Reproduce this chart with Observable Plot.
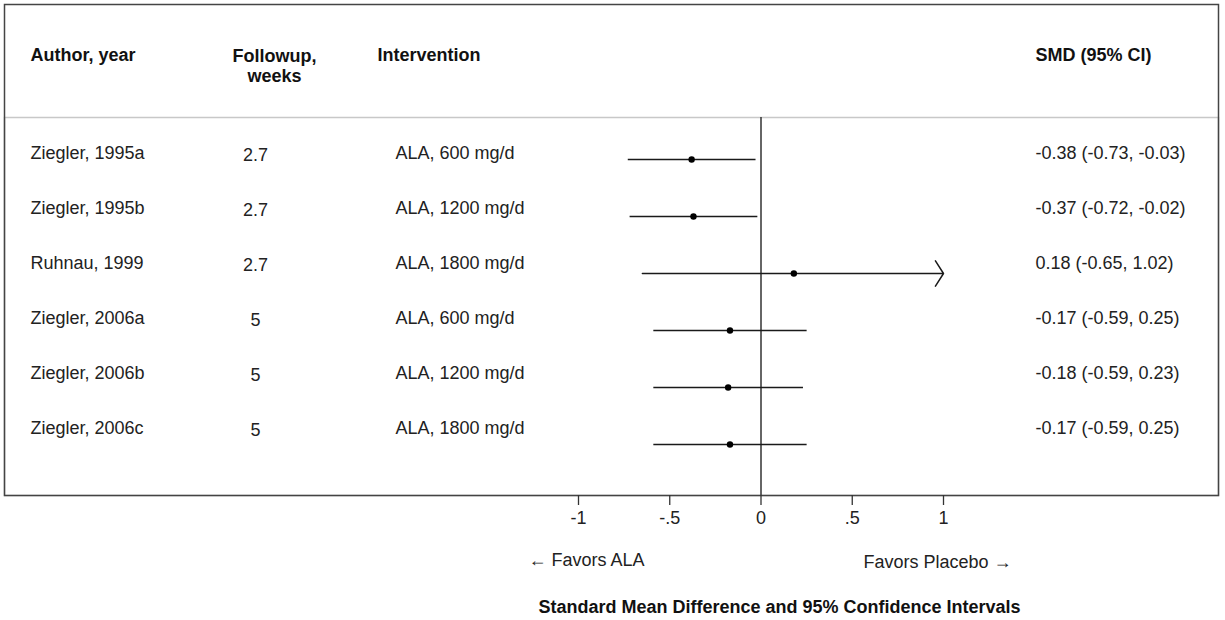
<!DOCTYPE html>
<html><head><meta charset="utf-8">
<script src="https://cdn.jsdelivr.net/npm/d3@7"></script>
<script src="https://cdn.jsdelivr.net/npm/@observablehq/plot@0.6"></script>
<style>
body{margin:0;background:#fff;}
#chart{position:relative;width:1225px;height:620px;}
#chart svg{position:absolute;left:0;top:0;}
</style></head><body><div id="chart"></div>
<script>
const authors = ["Ziegler, 1995a","Ziegler, 1995b","Ruhnau, 1999","Ziegler, 2006a","Ziegler, 2006b","Ziegler, 2006c"];
const followup = ["2.7","2.7","2.7","5","5","5"];
const interventions = ["ALA, 600 mg/d","ALA, 1200 mg/d","ALA, 1800 mg/d","ALA, 600 mg/d","ALA, 1200 mg/d","ALA, 1800 mg/d"];
const smd = [-0.38,-0.37,0.18,-0.17,-0.18,-0.17];
const lower = [-0.73,-0.72,-0.65,-0.59,-0.59,-0.59];
const upper = [-0.03,-0.02,1.02,0.25,0.23,0.25];
const headers = ["Author, year","Followup,\nweeks","Intervention","SMD (95% CI)"];
const xTicks = [-1,-0.5,0,0.5,1];
const xTickLabels = ["-1","-.5","0",".5","1"];
const favorsLeft = "\u2190 Favors ALA";
const favorsRight = "Favors Placebo \u2192";
const xTitle = "Standard Mean Difference and 95% Confidence Intervals";

const xMin = xTicks[0], xMax = xTicks[xTicks.length - 1];
const f2 = v => v.toFixed(2);
const data = authors.map((a, i) => ({
  row: i, author: a, followup: followup[i], intervention: interventions[i],
  smd: smd[i], lower: lower[i], upper: upper[i],
  upperClip: Math.min(upper[i], xMax),
  clipped: upper[i] > xMax,
  label: `${f2(smd[i])} (${f2(lower[i])}, ${f2(upper[i])})`
}));

const FONT = '"Liberation Sans", Arial, Helvetica, sans-serif';
const ink = "#222";
const W = 1225, H = 620;
const common = {
  width: W, height: H,
  marginTop: 4, marginLeft: 4, marginRight: 7, marginBottom: 125
};

// forest plot layer
const forest = Plot.plot({
  ...common,
  style: {fontFamily: FONT, fontSize: "18px", color: ink, background: "#fff"},
  x: {domain: [xMin, xMax], range: [578, 943], axis: null},
  y: {type: "point", domain: data.map(d => d.row), range: [158, 445], padding: 0, axis: null},
  marks: [
    Plot.frame({insetTop: 113, stroke: "#c8c8c8", strokeWidth: 1.5}),
    Plot.frame({stroke: "#444", strokeWidth: 1.5}),
    Plot.ruleX([0], {insetTop: 113, stroke: "#333", strokeWidth: 1.5}),
    Plot.link(data.filter(d => !d.clipped), {x1: "lower", x2: "upper", y1: "row", y2: "row", stroke: "#1a1a1a", strokeWidth: 1.5}),
    Plot.arrow(data.filter(d => d.clipped), {x1: "lower", x2: "upperClip", y1: "row", y2: "row", stroke: "#1a1a1a", strokeWidth: 1.5, headLength: 15, headAngle: 115, bend: 0}),
    Plot.dot(data, {x: "smd", y: "row", r: 3.2, fill: "#000", stroke: null}),
    // headers
    Plot.text([headers[0]], {text: d => d, frameAnchor: "top-left", dx: 26, dy: 51, lineAnchor: "middle", textAnchor: "start", fontWeight: "bold", fill: "#111"}),
    Plot.text([headers[1]], {text: d => d, frameAnchor: "top-left", dx: 270, dy: 61, lineAnchor: "middle", textAnchor: "middle", lineHeight: 1.12, fontWeight: "bold", fill: "#111"}),
    Plot.text([headers[2]], {text: d => d, frameAnchor: "top-left", dx: 373, dy: 51, lineAnchor: "middle", textAnchor: "start", fontWeight: "bold", fill: "#111"}),
    Plot.text([headers[3]], {text: d => d, frameAnchor: "top-left", dx: 1031, dy: 51, lineAnchor: "middle", textAnchor: "start", fontWeight: "bold", fill: "#111"}),
    // axis
    Plot.axisX({anchor: "bottom", ticks: xTicks, tickFormat: d => xTickLabels[xTicks.indexOf(d)], tickSize: 10, tickPadding: 6, stroke: "#333", strokeWidth: 1.3, fill: ink, label: null, fontSize: 18}),
    // bottom labels
    Plot.text([favorsLeft], {text: d => d, frameAnchor: "bottom-left", dx: 524, dy: 65, lineAnchor: "middle", textAnchor: "start", fill: ink}),
    Plot.text([favorsRight], {text: d => d, frameAnchor: "bottom-left", dx: 859, dy: 67, lineAnchor: "middle", textAnchor: "start", fill: ink}),
    Plot.text([xTitle], {text: d => d, frameAnchor: "bottom-left", dx: 534, dy: 112, lineAnchor: "middle", textAnchor: "start", fontWeight: "bold", fill: "#111"})
  ]
});

// table text layer (its own row scale)
const table = Plot.plot({
  ...common,
  style: {fontFamily: FONT, fontSize: "18px", color: ink, background: "transparent"},
  x: {axis: null},
  y: {type: "point", domain: data.map(d => d.row), range: [152, 428], padding: 0, axis: null},
  marks: [
    Plot.text(data, {y: "row", text: "author", frameAnchor: "left", dx: 26, textAnchor: "start", fill: ink}),
    Plot.text(data, {y: "row", text: "followup", frameAnchor: "left", dx: 251, dy: 2, textAnchor: "middle", fill: ink}),
    Plot.text(data, {y: "row", text: "intervention", frameAnchor: "left", dx: 391, textAnchor: "start", fill: ink}),
    Plot.text(data, {y: "row", text: "label", frameAnchor: "left", dx: 1031, textAnchor: "start", fill: ink})
  ]
});

const box = document.getElementById("chart");
box.appendChild(forest);
box.appendChild(table);
</script>
</body></html>
